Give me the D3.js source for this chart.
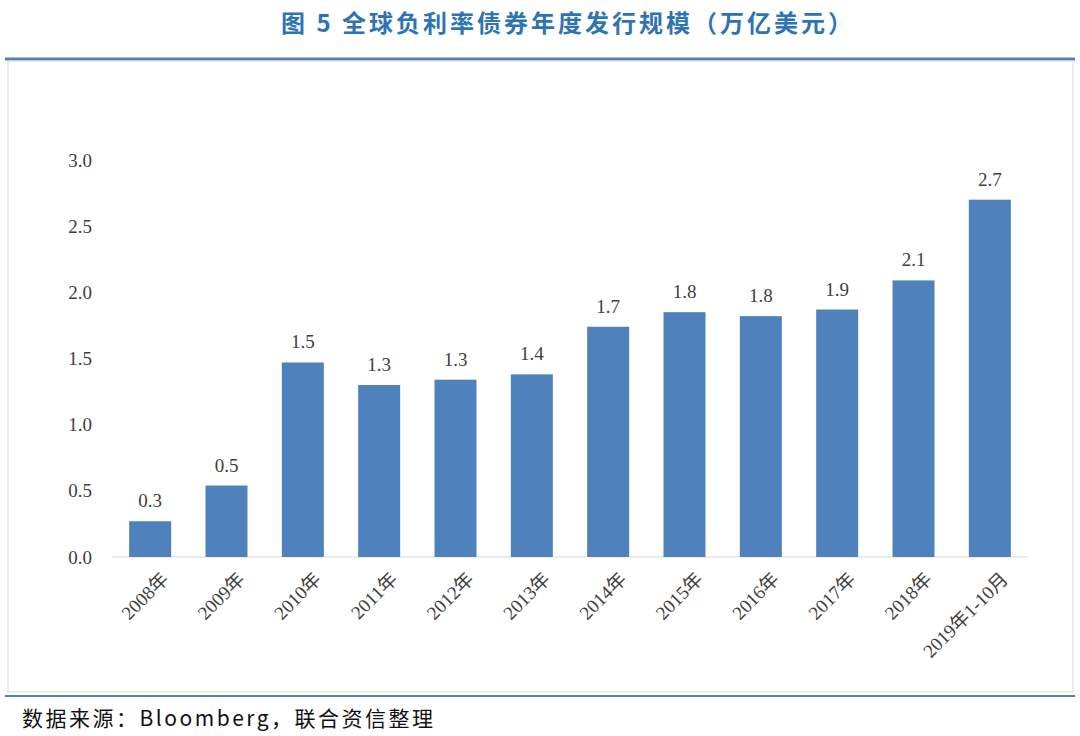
<!DOCTYPE html>
<html><head><meta charset="utf-8">
<script src="https://cdn.jsdelivr.net/npm/d3@7"></script>
<style>body{margin:0;background:#fff}</style>
</head><body>
<svg id="chart" width="1080" height="736"></svg>
<script>
const categories = ['2008年','2009年','2010年','2011年','2012年','2013年','2014年','2015年','2016年','2017年','2018年','2019年1-10月'];
const values = [0.27, 0.54, 1.47, 1.30, 1.34, 1.38, 1.74, 1.85, 1.82, 1.87, 2.09, 2.70];
const labels = ['0.3','0.5','1.5','1.3','1.3','1.4','1.7','1.8','1.8','1.9','2.1','2.7'];
const yTicks = [0, 0.5, 1.0, 1.5, 2.0, 2.5, 3.0];

const svg = d3.select('#chart');

// title and frame
svg.append('text').attr('x', 568).attr('y', 32).attr('text-anchor', 'middle')
    .attr('font-family', 'Noto Sans CJK SC').attr('font-weight', 'bold').attr('font-size', 24)
    .attr('letter-spacing', 3).attr('fill', '#2e74b5').text('图 5  全球负利率债券年度发行规模（万亿美元）');
svg.append('line').attr('x1', 5).attr('x2', 1075).attr('y1', 59).attr('y2', 59)
    .attr('stroke', '#4f81bd').attr('stroke-width', 3);
svg.append('rect').attr('x', 8).attr('y', 61).attr('width', 1065).attr('height', 631)
    .attr('fill', 'none').attr('stroke', '#d9d9d9');
svg.append('line').attr('x1', 5).attr('x2', 1075).attr('y1', 696).attr('y2', 696)
    .attr('stroke', '#4f81bd').attr('stroke-width', 2);
svg.append('text').attr('x', 22).attr('y', 726)
    .attr('font-family', 'Noto Sans CJK SC').attr('font-size', 21).attr('letter-spacing', 2.5).attr('fill', '#111')
    .text('数据来源：Bloomberg，联合资信整理');

const margin = { top: 160, left: 112, right: 52, bottom: 179 };
const width = 1080 - margin.left - margin.right;
const height = 736 - margin.top - margin.bottom;
const g = svg.append('g').attr('transform', `translate(${margin.left},${margin.top})`);

const x = d3.scaleBand().domain(categories).range([0, width]).paddingInner(0.45).paddingOuter(0.225);
const y = d3.scaleLinear().domain([0, 3]).range([height, 0]);

// y axis labels
g.selectAll('.ytick').data(yTicks).join('text')
    .attr('x', -20).attr('y', d => y(d)).attr('dy', '0.35em').attr('text-anchor', 'end')
    .attr('font-family', 'Liberation Serif').attr('font-size', 19).attr('fill', '#404040')
    .text(d => d.toFixed(1));

// baseline
g.append('line').attr('x1', 0).attr('x2', width).attr('y1', y(0)).attr('y2', y(0))
    .attr('stroke', '#d9d9d9');

g.selectAll('.bar').data(values).join('rect')
    .attr('x', (d, i) => x(categories[i])).attr('width', x.bandwidth())
    .attr('y', d => y(d)).attr('height', d => y(0) - y(d)).attr('fill', '#4f81bd');

g.selectAll('.lbl').data(values).join('text')
    .attr('x', (d, i) => x(categories[i]) + x.bandwidth() / 2).attr('y', d => y(d) - 14)
    .attr('text-anchor', 'middle').attr('font-family', 'Liberation Serif').attr('font-size', 19)
    .attr('fill', '#404040').text((d, i) => labels[i]);

g.selectAll('.xl').data(categories).join('text')
    .attr('transform', d => `translate(${x(d) + x.bandwidth() / 2 + 10},${height + 14}) rotate(-45)`)
    .attr('text-anchor', 'end').attr('dy', '0.7em')
    .attr('font-family', 'Liberation Serif, Noto Sans CJK SC').attr('font-size', 19).attr('fill', '#404040')
    .text(d => d);
</script>
</body></html>
